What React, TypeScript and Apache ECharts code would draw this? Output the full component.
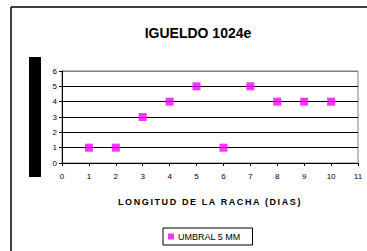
import React, { useEffect, useRef } from "react";
import * as echarts from "echarts";

const xValues = [1, 2, 3, 4, 5, 6, 7, 8, 9, 10];
const umbral5mm = [1, 1, 3, 4, 5, 1, 5, 4, 4, 4];
const seriesName = "UMBRAL 5 MM";
const titleText = "IGUELDO 1024e";
const xAxisName = "LONGITUD DE LA RACHA (DIAS)";

export default function App() {
  const ref = useRef<HTMLDivElement>(null);
  useEffect(() => {
    if (!ref.current) return;
    const chart = echarts.init(ref.current, null, { renderer: "svg" });
    const font = "Liberation Sans";
    chart.setOption({
      animation: false,
      backgroundColor: "#ffffff",
      textStyle: { fontFamily: font },
      title: {
        text: titleText,
        left: 193,
        top: 21,
        textAlign: "center",
        textStyle: { fontSize: 14, fontWeight: "bold", color: "#000", fontFamily: font },
      },
      graphic: [
        { type: "line", shape: { x1: 11, y1: 7, x2: 11, y2: 260 }, style: { stroke: "#000", lineWidth: 1.5 } },
        { type: "line", shape: { x1: 11, y1: 7, x2: 380, y2: 7 }, style: { stroke: "#000", lineWidth: 1.5 } },
        { type: "rect", shape: { x: 29, y: 57, width: 12, height: 120 }, style: { fill: "#000" } },
        {
          type: "text",
          x: 210,
          y: 201.5,
          style: {
            text: xAxisName,
            fontSize: 9,
            fontWeight: "bold",
            fontFamily: "Arial",
            fill: "#000",
            align: "center",
            verticalAlign: "middle",
          },
        },
      ],
      grid: {
        left: 62,
        right: 9,
        top: 71,
        height: 92,
        show: true,
        borderColor: "#808080",
        borderWidth: 1,
      },
      legend: {
        left: 163,
        top: 228,
        padding: [4, 12, 4, 5],
        borderColor: "#000",
        borderWidth: 1,
        itemWidth: 6,
        itemHeight: 6,
        itemGap: 4,
        icon: "rect",
        textStyle: { fontSize: 9, color: "#000", fontFamily: font, padding: [0, 0, 0, -1] },
        data: [seriesName],
      },
      xAxis: {
        type: "value",
        min: 0,
        max: 11,
        interval: 1,
        axisLine: { lineStyle: { color: "#000", width: 1 } },
        axisTick: { show: true, length: 3, lineStyle: { color: "#000" } },
        axisLabel: { fontSize: 8, color: "#000", margin: 9 },
        splitLine: { show: false },
      },
      yAxis: {
        type: "value",
        min: 0,
        max: 6,
        interval: 1,
        axisLine: { show: true, lineStyle: { color: "#000", width: 1 } },
        axisTick: { show: true, length: 3, lineStyle: { color: "#000" } },
        axisLabel: { fontSize: 8, color: "#000", margin: 5 },
        splitLine: {
          show: true,
          lineStyle: { color: ["#000", "#000", "#000", "#000", "#000", "#000", "#808080"], width: 1 },
        },
      },
      series: [
        {
          name: seriesName,
          type: "scatter",
          symbol: "rect",
          symbolSize: 8,
          itemStyle: { color: "#ff00ff" },
          data: xValues.map((x, i) => [x, umbral5mm[i]]),
        },
      ],
    });
    return () => chart.dispose();
  }, []);
  return (
    <>
      <style>{`#chart-root text[style*="Arial"] { letter-spacing: 1.6px; }`}</style>
      <div id="chart-root" ref={ref} style={{ position: "fixed", left: 0, top: 0, width: 367, height: 251 }} />
    </>
  );
}
